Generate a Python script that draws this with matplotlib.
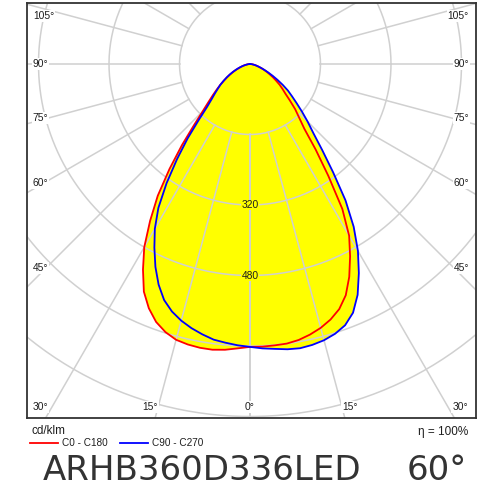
import numpy as np
import matplotlib
matplotlib.use("Agg")
import matplotlib.pyplot as plt
from matplotlib.lines import Line2D

# Luminous intensity (cd/klm) per gamma angle, 2.5 degree steps from 0 to 90
gamma = np.arange(0, 90.1, 2.5)
c0 = [642, 642, 641, 640, 636, 629, 620, 608, 592, 568, 533, 492, 450, 390, 310, 245,
      192, 165, 145, 123, 105, 93, 82, 70, 60, 50, 42, 34, 27, 21, 16, 12, 8, 5, 3, 1, 0]
c180 = [642, 646, 651, 654, 654, 652, 648, 638, 623, 600, 570, 526, 480, 422, 365, 300,
        240, 188, 152, 128, 110, 95, 82, 70, 60, 50, 42, 34, 27, 21, 16, 12, 8, 5, 3, 1, 0]
c90 = [642, 646, 649, 653, 655, 653, 649, 642, 631, 611, 578, 535, 490, 438, 378, 310,
       255, 213, 185, 160, 138, 120, 105, 88, 72, 58, 46, 36, 28, 21, 16, 12, 8, 5, 3, 1, 0]
c270 = [642, 639, 635, 631, 623, 614, 603, 589, 570, 542, 508, 470, 432, 387, 330, 272,
        220, 172, 138, 118, 104, 92, 82, 71, 61, 52, 43, 35, 28, 22, 17, 12, 8, 5, 3, 1, 0]

rings = [160, 320, 480, 640, 800]
ring_labels = [320, 480]
left_labels = ["105°", "90°", "75°", "60°", "45°"]
bottom_labels = ["30°", "15°", "0°", "15°", "30°"]

title = "ARHB360D336LED"
beam = "60°"
unit = "cd/klm"
eta = "η = 100%"
legend = ["C0 - C180", "C90 - C270"]

RED = "#ff0000"
BLUE = "#0000ff"
YELLOW = "#ffff00"
GRID = "#d0d0d0"
TXT = "#1e1e1e"

plt.rcParams['font.family'] = ['Liberation Sans', 'DejaVu Sans']


def half_plane(right, left):
    g = np.radians(gamma)
    r = np.array(right, float)
    l = np.array(left, float)
    xs = np.concatenate([-l[::-1] * np.sin(g[::-1]), r * np.sin(g)])
    ys = np.concatenate([-l[::-1] * np.cos(g[::-1]), -r * np.cos(g)])
    return xs, ys


fig = plt.figure(figsize=(5, 5), dpi=100)
ax = fig.add_axes([0.0534, 0.1646, 0.8976, 0.83])
ax.set_xlim(-506.8, 511.8)
ax.set_ylim(-802.7, 139.1)
ax.set_xticks([])
ax.set_yticks([])
for sp in ax.spines.values():
    sp.set_color("#333333")
    sp.set_linewidth(1.3)

xr, yr = half_plane(c0, c180)
xb, yb = half_plane(c90, c270)
ax.fill(xr, yr, color=YELLOW, lw=0, zorder=1)
ax.fill(xb, yb, color=YELLOW, lw=0, zorder=1)

# grid: full rings and rays every 15 degrees beyond the first ring
t = np.linspace(0, 2 * np.pi, 400)
for rr in rings:
    ax.plot(rr * np.cos(t), rr * np.sin(t), color=GRID, lw=1.1, zorder=2)
for a in range(0, 181, 15):
    ar = np.radians(a)
    for side in (-1, 1):
        ax.plot([side * 160 * np.sin(ar), side * 2500 * np.sin(ar)],
                [-160 * np.cos(ar), -2500 * np.cos(ar)],
                color=GRID, lw=1.1, zorder=2)

ax.plot(xr, yr, color=RED, lw=1.3, zorder=3)
ax.plot(xb, yb, color=BLUE, lw=1.3, zorder=3)

box = dict(facecolor="white", edgecolor="none", pad=0.6)
left_y = [109, 0, -122.6, -270, -463]
for lab, y in zip(left_labels, left_y):
    ax.text(-493, y, lab, ha="left", va="center", fontsize=7.4, color=TXT, bbox=box, zorder=4)
    ax.text(497, y, lab, ha="right", va="center", fontsize=7.4, color=TXT, bbox=box, zorder=4)
bottom_x = [-476.6, -227, 0, 227, 476.6]
for lab, x in zip(bottom_labels, bottom_x):
    ax.text(x, -778.4, lab, ha="center", va="center", fontsize=7.4, color=TXT, bbox=box, zorder=4)

for v in ring_labels:
    ax.text(0, -v, str(v), ha="center", va="center", fontsize=7.4, color=TXT,
            bbox=dict(facecolor=YELLOW, edgecolor="none", pad=0.3), zorder=4)

fig.text(0.064, 0.137, unit, ha="left", va="center", fontsize=8.5, color=TXT)
fig.text(0.936, 0.137, eta, ha="right", va="center", fontsize=8.5, color=TXT)
fig.add_artist(Line2D([0.06, 0.116], [0.1146, 0.1146], color=RED, lw=1.3))
fig.text(0.123, 0.1146, legend[0], ha="left", va="center", fontsize=7.2, color=TXT)
fig.add_artist(Line2D([0.24, 0.296], [0.1146, 0.1146], color=BLUE, lw=1.3))
fig.text(0.305, 0.1146, legend[1], ha="left", va="center", fontsize=7.2, color=TXT)

fig.text(0.086, 0.0586, title, ha="left", va="center", fontsize=24.5,
         color="#333333", family="DejaVu Sans")
fig.text(0.814, 0.0586, beam, ha="left", va="center", fontsize=24.5,
         color="#333333", family="DejaVu Sans")

fig.savefig("out.png", dpi=100)
